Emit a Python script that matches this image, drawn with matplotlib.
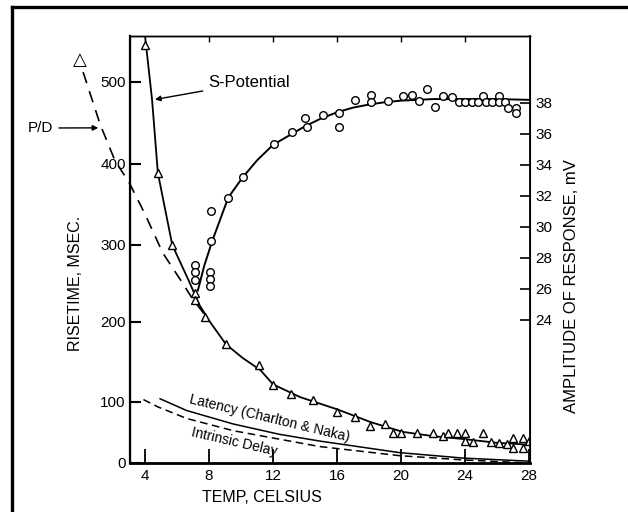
import matplotlib
matplotlib.use("Agg")
import numpy as np
import matplotlib.pyplot as plt
from matplotlib.lines import Line2D

plt.rcParams['font.family'] = ['Liberation Sans', 'DejaVu Sans']

# risetime points (triangles), left axis, msec
rise_temp = [4.0, 4.8, 5.7, 7.1, 7.1, 7.75, 9.06, 11.1, 12.0, 13.1, 14.5, 16.0, 17.1,
             18.06, 19.0, 19.5, 20.0, 21.0, 22.0, 22.6, 22.9, 23.5, 24.0, 24.0, 24.5,
             25.1, 25.6, 26.1, 26.6, 27.0, 27.0, 27.6, 27.6, 28.0]
rise_ms = [545, 389, 300, 238, 228, 207, 172, 146, 121, 110, 102, 83, 75,
           61, 64, 49, 49, 49, 49, 44, 49, 49, 49, 36, 34,
           49, 34, 32, 31, 41, 24, 41, 24, 36]

# amplitude points (circles), right axis, mV
amp_temp = [7.1, 7.1, 7.1, 8.06, 8.06, 8.06, 8.1, 8.1, 9.2, 10.1, 12.06, 13.2, 14.0,
            14.1, 15.1, 16.1, 16.1, 17.1, 18.1, 18.1, 19.2, 20.1, 20.7, 21.1, 21.6,
            22.1, 22.6, 23.2, 23.6, 24.0, 24.4, 24.8, 25.1, 25.3, 25.7, 26.1, 26.1,
            26.5, 26.7, 27.2, 27.2]
amp_mv = [27.55, 27.1, 26.6, 27.1, 26.65, 26.2, 31.0, 29.1, 31.9, 33.2, 35.35, 36.1, 37.0,
          36.45, 37.2, 37.35, 36.45, 38.2, 38.5, 38.05, 38.1, 38.45, 38.5, 38.1, 38.9,
          37.75, 38.45, 38.4, 38.05, 38.05, 38.05, 38.05, 38.45, 38.05, 38.05, 38.45, 38.05,
          38.05, 37.7, 37.7, 37.35]

# drawn curves
spot_temp = [4.0, 4.44, 4.8, 5.7, 6.7, 7.4, 8.06, 9.06, 10.1, 11.2, 12.0, 13.7, 16.0,
             18.1, 20.1, 22.0, 24.0, 26.0, 28.0]
spot_ms = [556, 478, 389, 300, 255, 222, 200, 172, 155, 140, 122, 106, 88,
           67, 51, 44, 39, 33, 30]

pd_temp = [0.13, 1.2, 2.1, 3.06, 4.0, 5.1, 6.2, 7.0, 7.75]
pd_ms = [512, 448, 405, 375, 338, 290, 255, 229, 209]

lat_temp = [4.94, 6.6, 9.5, 12.4, 14.9, 19.9, 23.9, 28.0]
lat_ms = [104, 86, 64, 47, 36, 17, 8, 3]

intr_temp = [3.9, 4.8, 6.6, 9.5, 12.4, 14.9, 19.9, 23.9, 28.0]
intr_ms = [103, 92, 73, 53, 39, 27, 12, 5, 0]

amp_fit_temp = [7.3, 7.7, 8.2, 9.2, 10.1, 11.0, 12.0, 13.0, 14.0, 15.0, 16.0, 17.0,
                18.0, 19.0, 20.0, 22.0, 24.0, 26.0, 28.0]
amp_fit_mv = [25.9, 27.5, 29.1, 31.9, 33.2, 34.3, 35.3, 35.9, 36.5, 37.0, 37.4, 37.7,
              37.9, 38.05, 38.15, 38.25, 38.25, 38.25, 38.2]

x_ticks = [4, 8, 12, 16, 20, 24, 28]
y_ticks = [0, 100, 200, 300, 400, 500]
amp_ticks = [24, 26, 28, 30, 32, 34, 36, 38]

# the printed risetime axis is not evenly spaced (scan of an old figure):
# tick value -> height in px above the x axis
scale_vals = [-1000, 0, 100, 200, 300, 400, 500, 2000]
scale_px = [-610, 0, 61, 141, 218, 299, 381, 1611]


def fwd(v):
    return np.interp(v, scale_vals, scale_px)


def inv(h):
    return np.interp(h, scale_px, scale_vals)


fig = plt.figure(figsize=(6.28, 5.12), dpi=100)
ax = fig.add_axes([130 / 628, 49 / 512, 400 / 628, 427 / 512])
ax.set_yscale('function', functions=(fwd, inv))
ax2 = ax.twinx()

ax.plot(spot_temp, spot_ms, color='black', lw=1.3)
ax.plot(pd_temp, pd_ms, color='black', lw=1.2, dashes=(7, 5), clip_on=False)
ax.plot(lat_temp, lat_ms, color='black', lw=1.1)
ax.plot(intr_temp, intr_ms, color='black', lw=1.1, dashes=(5, 3), clip_on=False)
ax.plot(rise_temp, rise_ms, ls='none', marker='^', ms=6, mfc='white', mec='black', mew=1.0)

ax2.plot(amp_fit_temp, amp_fit_mv, color='black', lw=1.4)
ax2.plot(amp_temp, amp_mv, ls='none', marker='o', ms=5.5, mfc='white', mec='black', mew=1.0)

ax.set_xlim(3.06, 28.05)
ax.set_ylim(0, 556)
ax2.set_ylim(14.77, 42.32)

ax.set_xticks(x_ticks)
ax.set_yticks(y_ticks)
ax.yaxis.set_minor_locator(matplotlib.ticker.NullLocator())
ax2.set_yticks(amp_ticks)

ax.tick_params(axis='x', direction='in', length=10, width=1.3, labelsize=11, pad=4)
ax.tick_params(axis='y', direction='in', length=8, width=1.5, labelsize=11, pad=3)
ax2.tick_params(axis='y', direction='in', length=7, width=1.2, labelsize=11, pad=4)

top = ax.secondary_xaxis('top')
top.set_xticks([8, 12, 16, 20, 24])
top.tick_params(direction='in', length=4, width=1, labeltop=False)

ax.spines['left'].set_linewidth(1.6)
ax.spines['bottom'].set_linewidth(2.0)
ax2.spines['right'].set_linewidth(1.3)
ax.spines['top'].set_linewidth(1.0)
top.spines['top'].set_linewidth(1.0)

# annotations
ax.annotate('S-Potential', xy=(4.45, 478), xytext=(7.95, 499), fontsize=12,
            ha='left', va='center',
            arrowprops=dict(arrowstyle='-|>', color='black', lw=1.0, mutation_scale=8))
ax.annotate('P/D', xy=(1.25, 444), xytext=(28, 384), textcoords='figure pixels',
            fontsize=11, ha='left', va='center', annotation_clip=False,
            arrowprops=dict(arrowstyle='-|>', color='black', lw=1.0, mutation_scale=8))
fig.text(80 / 628, 1 - 60 / 512, '\u25b3', fontsize=13, ha='center', va='center',
         family=['DejaVu Sans'])

fig.text(270 / 628, 1 - 418 / 512, 'Latency (Charlton & Naka)', fontsize=10,
         rotation=-13.5, rotation_mode='anchor', ha='center', va='center')
fig.text(234 / 628, 1 - 442 / 512, 'Intrinsic Delay', fontsize=10,
         rotation=-13, rotation_mode='anchor', ha='center', va='center')

# axis titles
fig.text(75 / 628, 1 - 283 / 512, 'RISETIME, MSEC.', fontsize=11.5, rotation=90,
         ha='center', va='center')
fig.text(571 / 628, 1 - 286 / 512, 'AMPLITUDE OF RESPONSE, mV', fontsize=12, rotation=90,
         ha='center', va='center')
fig.text(262 / 628, 1 - 497 / 512, 'TEMP, CELSIUS', fontsize=11.5,
         ha='center', va='center')

# frame on top and left of the picture
fig.add_artist(Line2D([12 / 628, 1], [1 - 7 / 512, 1 - 7 / 512], color='black', lw=2.4))
fig.add_artist(Line2D([12 / 628, 12 / 628], [0, 1 - 7 / 512], color='black', lw=2.4))

fig.savefig('out.png', dpi=100)
